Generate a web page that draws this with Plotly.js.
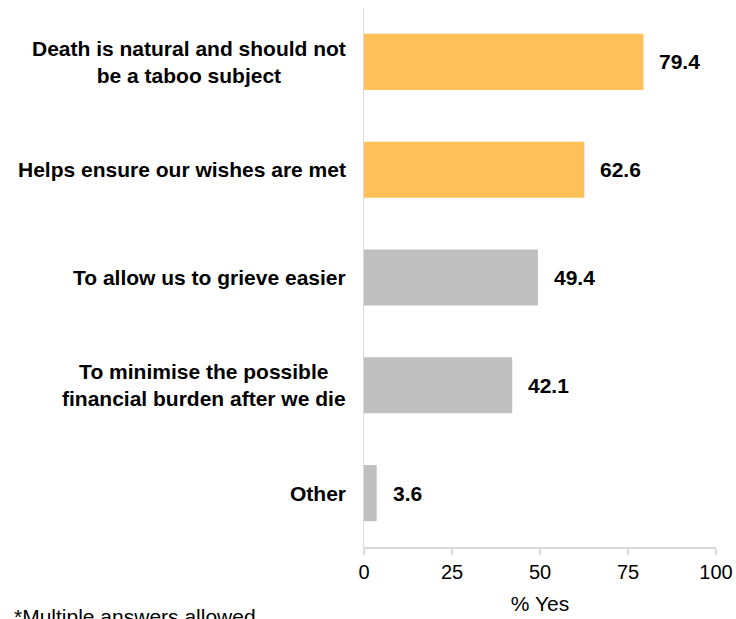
<!DOCTYPE html>
<html>
<head>
<meta charset="utf-8">
<script src="https://cdn.plot.ly/plotly-3.0.1.min.js"></script>
<style>html,body{margin:0;padding:0;background:#fff;}#chart{width:736px;height:619px;}</style>
</head>
<body>
<div id="chart"></div>
<script>
const categories = [
  "Death is natural and should not<br>be a taboo subject",
  "Helps ensure our wishes are met",
  "To allow us to grieve easier",
  "To minimise the possible<br>financial burden after we die",
  "Other"
];
const values = [79.4, 62.6, 49.4, 42.1, 3.6];
const barColors = ["#FFC05A", "#FFC05A", "#BFBFBF", "#BFBFBF", "#BFBFBF"];
const xTicks = [0, 25, 50, 75, 100];
const xTitle = "% Yes";
const footnote = "*Multiple answers allowed";

const FONT = "Liberation Sans, Arial, sans-serif";
const ids = categories.map((c, i) => "c" + i);

const trace = {
  type: "bar",
  orientation: "h",
  x: values,
  y: ids,
  width: 0.52,
  marker: {color: barColors},
  hoverinfo: "none"
};

const annotations = [];
values.forEach((v, i) => {
  annotations.push({
    x: v, y: ids[i], xref: "x", yref: "y",
    text: "<b>" + v.toFixed(1) + "</b>",
    showarrow: false, xanchor: "left", yanchor: "middle", xshift: 14,
    font: {family: FONT, size: 21, color: "#000"}
  });
  annotations.push({
    x: 0, y: ids[i], xref: "paper", yref: "y",
    text: "<b>" + categories[i] + "</b>",
    showarrow: false, xanchor: "right", yanchor: "middle", xshift: -16, align: "center",
    font: {family: FONT, size: 21, color: "#000"}
  });
});
annotations.push({
  x: 0, y: -0.104, xref: "paper", yref: "paper",
  text: footnote, showarrow: false, xanchor: "left", yanchor: "top",
  xshift: -352,
  font: {family: FONT, size: 21, color: "#000"}
});

const layout = {
  width: 736, height: 619,
  margin: {l: 364, r: 20, t: 8, b: 72},
  paper_bgcolor: "#fff", plot_bgcolor: "#fff",
  showlegend: false,
  xaxis: {
    range: [0, 100],
    tickvals: xTicks,
    ticktext: xTicks.map(String),
    showgrid: false, zeroline: false,
    showline: true, linecolor: "#d9d9d9", linewidth: 1.5,
    ticks: "outside", ticklen: 6, tickcolor: "#d9d9d9", tickwidth: 1.5,
    ticklabelstandoff: 0,
    tickfont: {family: FONT, size: 20, color: "#000"},
    title: {text: xTitle, standoff: 15, font: {family: FONT, size: 21, color: "#000"}},
    fixedrange: true
  },
  yaxis: {
    categoryorder: "array", categoryarray: ids,
    autorange: "reversed",
    showticklabels: false, ticks: "",
    showgrid: false, zeroline: false,
    showline: true, linecolor: "#d9d9d9", linewidth: 1.5,
    fixedrange: true
  },
  annotations: annotations
};

Plotly.newPlot("chart", [trace], layout, {displayModeBar: false, staticPlot: true});
</script>
</body>
</html>
